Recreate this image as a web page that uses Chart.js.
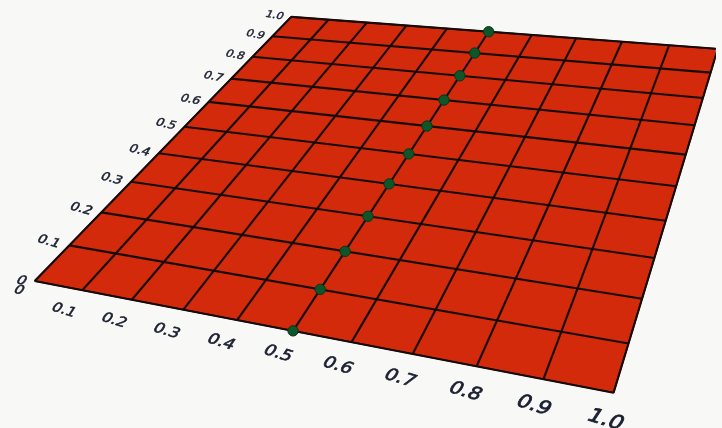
<!DOCTYPE html>
<html>
<head>
<meta charset="utf-8">
<script src="https://cdn.jsdelivr.net/npm/chart.js@4/dist/chart.umd.min.js"></script>
<style>
  html, body { margin: 0; padding: 0; background: #f8f8f6; }
  canvas { display: block; }
</style>
</head>
<body>
<canvas id="c" width="722" height="428"></canvas>
<script>
// ---- data ----
const uTicks = [0, 0.1, 0.2, 0.3, 0.4, 0.5, 0.6, 0.7, 0.8, 0.9, 1.0];
const vTicks = [0, 0.1, 0.2, 0.3, 0.4, 0.5, 0.6, 0.7, 0.8, 0.9, 1.0];
const uTickLabels = ['0', '0.1', '0.2', '0.3', '0.4', '0.5', '0.6', '0.7', '0.8', '0.9', '1.0'];
const vTickLabels = ['0', '0.1', '0.2', '0.3', '0.4', '0.5', '0.6', '0.7', '0.8', '0.9', '1.0'];
const dotU = [0.5, 0.5, 0.5, 0.5, 0.5, 0.5, 0.5, 0.5, 0.5, 0.5, 0.5];
const dotV = [0, 0.1, 0.2, 0.3, 0.4, 0.5, 0.6, 0.7, 0.8, 0.9, 1.0];

// ---- perspective view of the unit square (layout) ----
const VIEW = { p00: [29, 283], p10: [618, 398], p11: [724, 44], p01: [290, 11] };

const H = (function () {
  const [x0, y0] = VIEW.p00, [x1, y1] = VIEW.p10, [x2, y2] = VIEW.p11, [x3, y3] = VIEW.p01;
  const dx1 = x1 - x2, dx2 = x3 - x2, dx3 = x0 - x1 + x2 - x3;
  const dy1 = y1 - y2, dy2 = y3 - y2, dy3 = y0 - y1 + y2 - y3;
  const den = dx1 * dy2 - dx2 * dy1;
  const g = (dx3 * dy2 - dx2 * dy3) / den;
  const h = (dx1 * dy3 - dx3 * dy1) / den;
  return {
    a: x1 - x0 + g * x1, b: x3 - x0 + h * x3, c: x0,
    d: y1 - y0 + g * y1, e: y3 - y0 + h * y3, f: y0, g, h
  };
})();
function project(u, v) {
  const w = H.g * u + H.h * v + 1;
  return { x: (H.a * u + H.b * v + H.c) / w, y: (H.d * u + H.e * v + H.f) / w };
}
function dPdu(u, v) {
  const e = 1e-4, p = project(u + e, v), q = project(u - e, v);
  return { x: (p.x - q.x) / (2 * e), y: (p.y - q.y) / (2 * e) };
}

const u0 = uTicks[0], u1 = uTicks[uTicks.length - 1];
const v0 = vTicks[0], v1 = vTicks[vTicks.length - 1];

const datasets = [];
// dots (drawn on top)
datasets.push({
  type: 'scatter',
  data: dotU.map((u, i) => project(u, dotV[i])),
  pointRadius: 5.2,
  pointBackgroundColor: '#0e5529',
  pointBorderColor: '#0a361a',
  pointBorderWidth: 1,
  showLine: false,
  order: 0
});
// grid lines
uTicks.forEach(u => datasets.push({
  type: 'line', data: [project(u, v0), project(u, v1)],
  borderColor: '#180b07', borderWidth: 2.1, pointRadius: 0, fill: false, order: 1
}));
vTicks.forEach(v => datasets.push({
  type: 'line', data: [project(u0, v), project(u1, v)],
  borderColor: '#180b07', borderWidth: 2.1, pointRadius: 0, fill: false, order: 1
}));
// the plane
datasets.push({
  type: 'line',
  data: [project(u0, v0), project(u1, v0), project(u1, v1), project(u0, v1), project(u0, v0)],
  borderColor: '#180b07', borderWidth: 1.6, pointRadius: 0,
  backgroundColor: '#d22a0b', fill: 'shape', order: 2
});

const tickLabelPlugin = {
  id: 'tickLabels',
  afterDatasetsDraw(chart) {
    const ctx = chart.ctx, sx = chart.scales.x, sy = chart.scales.y;
    function put(text, p, dir) {
      const s = Math.hypot(dir.x, dir.y) / 500;
      const ang = Math.atan2(dir.y, dir.x) + 0.1;
      ctx.save();
      ctx.translate(sx.getPixelForValue(p.x), sy.getPixelForValue(p.y));
      ctx.rotate(ang);
      ctx.transform(1, 0, -0.3, 1, 0, 0);
      ctx.scale(s, s * 0.88);
      ctx.fillStyle = '#1a2030';
      ctx.strokeStyle = '#1a2030';
      ctx.lineWidth = 0.6;
      ctx.font = '15px "DejaVu Sans"';
      ctx.textAlign = 'center';
      ctx.textBaseline = 'middle';
      ctx.fillText(text, 0, 0);
      ctx.strokeText(text, 0, 0);
      ctx.restore();
    }
    uTicks.forEach((u, i) => {
      const off = i === 0 ? [ -0.012, -0.028 ] : [0, -0.052];
      put(uTickLabels[i], project(u + off[0], v0 + off[1]), dPdu(u, v0));
    });
    vTicks.forEach((v, i) => {
      const off = i === 0 ? [ -0.024, -0.006 ] : [-0.046, 0];
      put(vTickLabels[i], project(u0 + off[0], v + off[1]), dPdu(u0, v));
    });
  }
};

new Chart(document.getElementById('c'), {
  type: 'scatter',
  data: { datasets },
  options: {
    responsive: false,
    devicePixelRatio: 1,
    animation: false,
    layout: { padding: 0 },
    plugins: { legend: { display: false }, tooltip: { enabled: false } },
    scales: {
      x: { type: 'linear', min: 0, max: 722, display: false },
      y: { type: 'linear', min: 0, max: 428, reverse: true, display: false }
    }
  },
  plugins: [tickLabelPlugin]
});
</script>
</body>
</html>
